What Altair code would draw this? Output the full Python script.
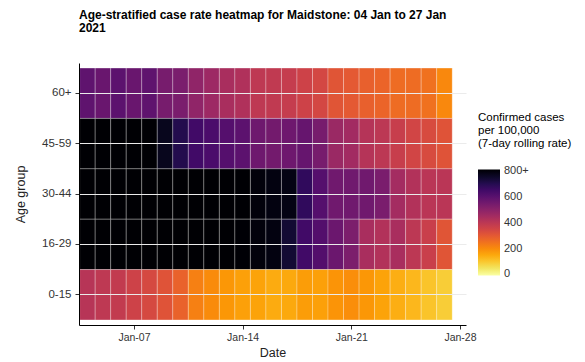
import altair as alt
import pandas as pd

# ---- data ----
dates = [f"2021-01-{d:02d}" for d in range(4, 28)]  # 04 Jan .. 27 Jan
age_groups = ["60+", "45-59", "30-44", "16-29", "0-15"]  # top to bottom

rate_60_plus = [590, 570, 595, 570, 590, 540, 535, 490, 465, 440, 425, 395,
                390, 380, 360, 345, 310, 300, 285, 275, 260, 260, 250, 205]
rate_45_59 = [950, 930, 910, 880, 860, 770, 705, 650, 630, 610, 595, 560,
              550, 560, 575, 540, 470, 455, 415, 400, 375, 350, 335, 315]
rate_30_44 = [1000, 990, 990, 980, 960, 950, 930, 910, 890, 860, 830, 800,
              790, 785, 680, 610, 555, 555, 555, 535, 450, 420, 405, 405]
rate_16_29 = [980, 970, 960, 950, 940, 920, 900, 880, 860, 840, 810, 800,
              790, 740, 650, 615, 565, 530, 440, 420, 440, 400, 370, 310]
rate_0_15 = [410, 395, 385, 360, 340, 315, 280, 220, 200, 180, 165, 160,
             145, 150, 170, 165, 185, 195, 180, 160, 140, 125, 105, 90]

legend_values = [0, 200, 400, 600, 800]

series = {
    "60+": rate_60_plus,
    "45-59": rate_45_59,
    "30-44": rate_30_44,
    "16-29": rate_16_29,
    "0-15": rate_0_15,
}

rows = []
for age, vals in series.items():
    for d, v in zip(dates, vals):
        day = pd.Timestamp(d)
        rows.append({
            "age": age,
            "date": d,
            "start": (day - pd.Timedelta(hours=12)).strftime("%Y-%m-%dT%H:%M:%S"),
            "end": (day + pd.Timedelta(hours=12)).strftime("%Y-%m-%dT%H:%M:%S"),
            "rate": v,
        })
df = pd.DataFrame(rows)

FONT = "Liberation Sans"
NBSP = "\u00a0"

x_domain = [alt.DateTime(year=2021, month=1, date=3, hours=11),
            alt.DateTime(year=2021, month=1, date=28, hours=9, minutes=20)]
x_ticks = [alt.DateTime(year=2021, month=1, date=d) for d in (7, 14, 21, 28)]

chart = alt.Chart(df).mark_rect(
    stroke="white", strokeWidth=0.6, strokeOpacity=0.45
).encode(
    x=alt.X("start:T",
            scale=alt.Scale(domain=x_domain),
            axis=alt.Axis(values=x_ticks, format="%b-%d", title="Date",
                          grid=False, titleY=27, titleBaseline="middle",
                          labelFontSize=10.5, labelPadding=3)),
    x2="end:T",
    y=alt.Y("age:N", sort=age_groups,
            scale=alt.Scale(paddingInner=0, paddingOuter=0.1),
            axis=alt.Axis(title="Age group", grid=True, gridColor="#ebebeb",
                          titleX=-59, titleY=131, titleBaseline="middle",
                          labelFontSize=11.5, labelPadding=4)),
    color=alt.Color("rate:Q",
                    scale=alt.Scale(scheme="inferno", reverse=True,
                                    domain=[-8, 812], clamp=True),
                    legend=alt.Legend(
                        title=["Confirmed cases", NBSP + "per 100,000", NBSP + "(7-day rolling rate)"],
                        orient="none", legendX=399, legendY=49,
                        direction="vertical",
                        gradientLength=106, gradientThickness=22,
                        gradientStrokeWidth=0,
                        values=legend_values,
                        labelExpr="datum.value >= 800 ? '800+' : datum.label",
                        titleFont=FONT, titleFontSize=11.5, titleFontWeight="normal",
                        titleColor="black", titleLineHeight=13, titlePadding=20,
                        labelFont=FONT, labelFontSize=11, labelColor="#333333",
                        labelOffset=4, labelBaseline="middle")),
).properties(
    width=387,
    height=262,
    autosize=alt.AutoSizeParams(type="none"),
    padding={"left": 71, "top": 55, "right": 111, "bottom": 35},
    title=alt.TitleParams(
        text=["Age-stratified case rate heatmap for Maidstone: 04 Jan to 27 Jan", "2021"],
        anchor="start", frame="group", font=FONT, fontSize=12,
        fontWeight="bold", color="black", lineHeight=13.5, offset=28),
).configure_view(
    stroke=None
).configure_axis(
    domainColor="black", domainWidth=1, tickColor="#333333", tickSize=4,
    labelFont=FONT, labelColor="#333333",
    titleFont=FONT, titleFontSize=12.5, titleFontWeight="normal", titleColor="#222222",
)

chart.save("out.html", embed_options={"renderer": "svg", "actions": False})
